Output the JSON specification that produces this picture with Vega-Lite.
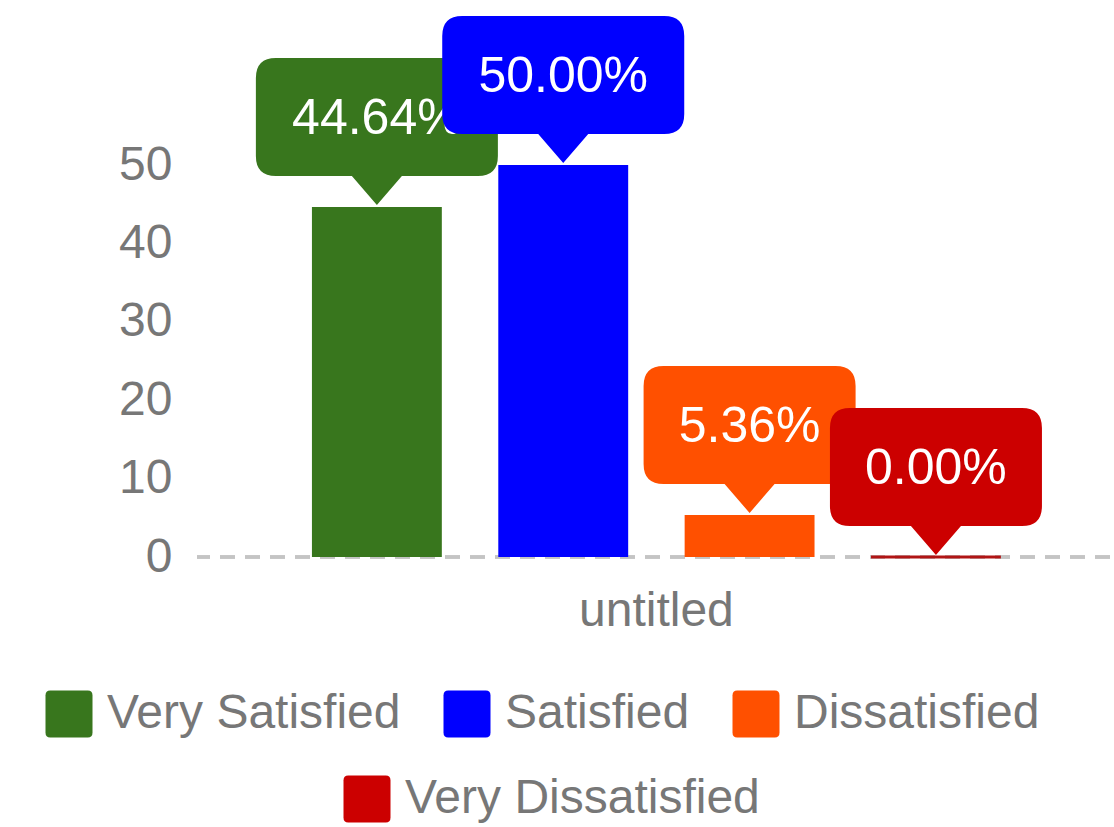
{
  "$schema": "https://vega.github.io/schema/vega-lite/v6.json",
  "width": 913,
  "height": 392,
  "autosize": {"type": "none"},
  "padding": {"left": 197, "top": 165, "right": 4, "bottom": 270},
  "background": "white",
  "config": {
    "view": {"stroke": null},
    "font": "Liberation Sans",
    "legend": {
      "labelFont": "Liberation Sans",
      "labelFontSize": 48,
      "labelColor": "#777777",
      "labelLimit": 0,
      "labelOffset": 14,
      "columnPadding": 42,
      "symbolType": "M-0.8,-1 L0.8,-1 Q1,-1 1,-0.8 L1,0.8 Q1,1 0.8,1 L-0.8,1 Q-1,1 -1,0.8 L-1,-0.8 Q-1,-1 -0.8,-1 Z",
      "symbolSize": 2209,
      "symbolStrokeWidth": 0,
      "symbolOpacity": 1,
      "padding": 0
    }
  },
  "data": {
    "values": [
      {"category": "untitled", "series": "Very Satisfied", "value": 44.64, "label": "44.64%"},
      {"category": "untitled", "series": "Satisfied", "value": 50.0, "label": "50.00%"},
      {"category": "untitled", "series": "Dissatisfied", "value": 5.36, "label": "5.36%"},
      {"category": "untitled", "series": "Very Dissatisfied", "value": 0.0, "label": "0.00%"}
    ]
  },
  "resolve": {"legend": {"color": "independent"}},
  "layer": [
    {
      "mark": {"type": "rule", "strokeDash": [15, 10], "color": "#c4c4c4", "strokeWidth": 3},
      "encoding": {"y": {"datum": 0, "type": "quantitative"}}
    },
    {
      "transform": [{"filter": "datum.series !== 'Very Dissatisfied'"}],
      "mark": {"type": "bar"},
      "encoding": {
        "x": {
          "field": "category", "type": "nominal",
          "scale": {"paddingInner": 0, "paddingOuter": 0.1626, "align": 0.513},
          "axis": {"title": null, "domain": false, "ticks": false, "labelAngle": 0, "labelFontSize": 48, "labelColor": "#777777", "labelPadding": 30, "labelFont": "Liberation Sans"}
        },
        "xOffset": {
          "field": "series", "type": "nominal",
          "sort": ["Very Satisfied", "Satisfied", "Dissatisfied", "Very Dissatisfied"],
          "scale": {"paddingInner": 0.303, "paddingOuter": 0}
        },
        "y": {
          "field": "value", "type": "quantitative",
          "scale": {"domain": [0, 50], "nice": false, "zero": true},
          "axis": {"title": null, "domain": false, "ticks": false, "grid": false, "values": [0, 10, 20, 30, 40, 50], "labelFontSize": 48, "labelColor": "#777777", "labelPadding": 25, "labelFont": "Liberation Sans"}
        },
        "color": {
          "field": "series", "type": "nominal",
          "scale": {
            "domain": ["Very Satisfied", "Satisfied", "Dissatisfied", "Very Dissatisfied"],
            "range": ["#38761d", "#0000ff", "#ff5000", "#cc0000"]
          },
          "legend": {"orient": "none", "legendX": -152, "legendY": 525, "direction": "horizontal", "title": null, "values": ["Very Satisfied", "Satisfied", "Dissatisfied"]}
        }
      }
    },
    {
      "transform": [{"filter": "datum.series === 'Very Dissatisfied'"}],
      "mark": {"type": "bar", "strokeWidth": 3},
      "encoding": {
        "x": {"field": "category", "type": "nominal"},
        "xOffset": {"field": "series", "type": "nominal", "sort": ["Very Satisfied", "Satisfied", "Dissatisfied", "Very Dissatisfied"]},
        "y": {"field": "value", "type": "quantitative"},
        "color": {
          "field": "series", "type": "nominal",
          "legend": {"orient": "none", "legendX": 146, "legendY": 610, "direction": "horizontal", "title": null, "values": ["Very Dissatisfied"]}
        },
        "stroke": {
          "field": "series", "type": "nominal", "legend": null,
          "scale": {
            "domain": ["Very Satisfied", "Satisfied", "Dissatisfied", "Very Dissatisfied"],
            "range": ["#38761d", "#0000ff", "#ff5000", "#b01515"]
          }
        }
      }
    },
    {
      "transform": [{"filter": "datum.series === 'Very Satisfied'"}],
      "mark": {"type": "point", "filled": true, "opacity": 1, "strokeWidth": 0, "size": 4,
        "shape": "M0,-2 L-25,-31 L-101,-31 Q-121,-31 -121,-51 L-121,-129 Q-121,-149 -101,-149 L101,-149 Q121,-149 121,-129 L121,-51 Q121,-31 101,-31 L25,-31 Z"},
      "encoding": {
        "x": {"field": "category", "type": "nominal"},
        "xOffset": {"field": "series", "type": "nominal", "sort": ["Very Satisfied", "Satisfied", "Dissatisfied", "Very Dissatisfied"]},
        "y": {"field": "value", "type": "quantitative"},
        "color": {"field": "series", "type": "nominal", "legend": null}
      }
    },
    {
      "transform": [{"filter": "datum.series === 'Very Satisfied'"}],
      "mark": {"type": "text", "color": "white", "fontSize": 50, "dy": -88, "baseline": "middle", "font": "Liberation Sans"},
      "encoding": {
        "x": {"field": "category", "type": "nominal"},
        "xOffset": {"field": "series", "type": "nominal", "sort": ["Very Satisfied", "Satisfied", "Dissatisfied", "Very Dissatisfied"]},
        "y": {"field": "value", "type": "quantitative"},
        "text": {"field": "label", "type": "nominal"}
      }
    },
    {
      "transform": [{"filter": "datum.series !== 'Very Satisfied'"}],
      "mark": {"type": "point", "filled": true, "opacity": 1, "strokeWidth": 0, "size": 4},
      "encoding": {
        "x": {"field": "category", "type": "nominal"},
        "xOffset": {"field": "series", "type": "nominal", "sort": ["Very Satisfied", "Satisfied", "Dissatisfied", "Very Dissatisfied"]},
        "y": {"field": "value", "type": "quantitative"},
        "color": {"field": "series", "type": "nominal", "legend": null},
        "shape": {
          "field": "series", "type": "nominal", "legend": null,
          "scale": {
            "domain": ["Satisfied", "Dissatisfied", "Very Dissatisfied"],
            "range": [
              "M0,-2 L-25,-31 L-101,-31 Q-121,-31 -121,-51 L-121,-129 Q-121,-149 -101,-149 L101,-149 Q121,-149 121,-129 L121,-51 Q121,-31 101,-31 L25,-31 Z",
              "M0,-2 L-25,-31 L-86,-31 Q-106,-31 -106,-51 L-106,-129 Q-106,-149 -86,-149 L86,-149 Q106,-149 106,-129 L106,-51 Q106,-31 86,-31 L25,-31 Z",
              "M0,-2 L-25,-31 L-86,-31 Q-106,-31 -106,-51 L-106,-129 Q-106,-149 -86,-149 L86,-149 Q106,-149 106,-129 L106,-51 Q106,-31 86,-31 L25,-31 Z"
            ]
          }
        }
      }
    },
    {
      "transform": [{"filter": "datum.series !== 'Very Satisfied'"}],
      "mark": {"type": "text", "color": "white", "fontSize": 50, "dy": -88, "baseline": "middle", "font": "Liberation Sans"},
      "encoding": {
        "x": {"field": "category", "type": "nominal"},
        "xOffset": {"field": "series", "type": "nominal", "sort": ["Very Satisfied", "Satisfied", "Dissatisfied", "Very Dissatisfied"]},
        "y": {"field": "value", "type": "quantitative"},
        "text": {"field": "label", "type": "nominal"}
      }
    }
  ]
}
